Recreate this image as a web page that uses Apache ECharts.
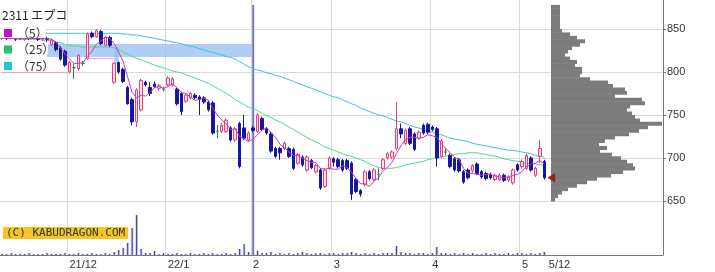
<!DOCTYPE html>
<html><head><meta charset="utf-8">
<script src="https://cdn.jsdelivr.net/npm/echarts@6/dist/echarts.min.js"></script>
<style>html,body{margin:0;padding:0;background:#fff;}#c{width:715px;height:272px;}</style>
</head><body><div id="c"></div>
<script>
const stockTitle = '2311 エプコ';
const maNames = ['（5）', '（25）', '（75）'];
const copyright = '(C) KABUDRAGON.COM';

const dates = [
 '11/09','11/10','11/11','11/12','11/15','11/16','11/17','11/18','11/19','11/22','11/24','11/25','11/26','11/29','11/30',
 '12/01','12/02','12/03','12/06','12/07','12/08','12/09','12/10','12/13','12/14','12/15','12/16','12/17','12/20','12/21','12/22','12/23','12/24','12/27','12/28','12/29','12/30',
 '01/04','01/05','01/06','01/07','01/11','01/12','01/13','01/14','01/17','01/18','01/19','01/20','01/21','01/24','01/25','01/26','01/27','01/28','01/31',
 '02/01','02/02','02/03','02/04','02/07','02/08','02/09','02/10','02/14','02/15','02/16','02/17','02/18','02/21','02/22','02/24','02/25','02/28',
 '03/01','03/02','03/03','03/04','03/07','03/08','03/09','03/10','03/11','03/14','03/15','03/16','03/17','03/18','03/22','03/23','03/24','03/25','03/28','03/29','03/30','03/31',
 '04/01','04/04','04/05','04/06','04/07','04/08','04/11','04/12','04/13','04/14','04/15','04/18','04/19','04/20','04/21','04/22','04/25','04/26','04/27','04/28',
 '05/02','05/06','05/09','05/10','05/11','05/12'
];

const opens = [839,840,839,840,838,838,840,839,840,838,839,832,834,828,824,800,805,804,810,816,845,841,847,831,840,788,811,803,782,768,742,756,788,782,786,781,780,785,785,780,775,766,770,773,771,770,765,764,731,731,731,735,721,740,735,721,735,731,746,734,728,711,711,711,711,710,694,701,686,697,684,686,667,688,699,698,697,697,694,675,662,669,684,675,681,688,700,701,711,734,717,734,728,723,738,739,736,734,702,707,703,699,698,684,686,685,693,684,682,681,675,675,680,674,671,692,690,688,700,680,702,696];
const closes = [840,839,840,838,839,840,839,840,838,839,838,837,826,815,808,811,805,819,810,844,841,848,833,840,831,810,800,789,763,742,779,790,785,775,783,784,780,793,792,763,754,773,775,770,768,765,756,729,731,738,744,721,734,690,723,729,732,750,733,729,708,702,706,717,702,688,704,692,701,689,691,665,686,700,695,690,686,688,658,661,658,684,676,686,681,698,705,707,734,728,732,717,710,730,729,730,733,700,720,707,690,686,685,672,677,691,682,678,676,677,680,680,674,678,686,686,696,703,686,688,711,677];
const lows = [837,837,838,836,837,836,837,838,836,836,835,830,824,813,806,798,792,802,807,814,839,840,831,830,829,786,798,787,762,738,736,754,783,772,781,778,777,783,783,761,750,764,768,768,750,763,754,727,723,729,729,719,719,688,721,719,730,729,731,727,706,700,698,709,700,686,692,690,684,687,682,663,665,686,690,688,684,686,651,659,655,667,674,673,674,686,698,699,709,723,715,715,708,721,727,728,731,690,700,703,688,684,683,670,675,683,680,676,674,675,673,673,672,672,669,684,688,686,684,678,694,675];
const highs = [842,841,842,841,841,841,842,842,841,841,841,839,836,830,826,813,810,821,813,846,847,850,849,842,842,811,812,805,784,770,781,792,790,788,789,786,783,795,794,782,777,775,777,775,773,772,767,766,738,741,746,737,736,742,750,731,737,752,748,736,730,713,713,719,713,712,706,703,703,699,693,688,688,702,701,700,699,699,696,677,664,686,686,688,688,700,707,709,765,740,734,736,730,732,740,741,738,736,722,711,705,701,700,686,688,693,695,686,684,683,682,682,682,680,688,694,698,705,702,690,721,698];
const volumes = [1,1,2,1,1,1,2,1,1,1,2,1,1,1,2,1,1,2,1,1,2,1,1,2,1,3,5,7,12,27,40,6,2,2,4,1,2,1,1,2,1,1,2,1,1,2,1,2,1,1,2,1,2,6,11,3,250,4,2,2,3,1,2,1,2,1,2,3,2,1,2,2,1,2,2,1,2,2,3,2,1,2,1,2,1,2,2,2,9,3,2,2,1,2,2,1,2,8,2,2,1,2,1,2,1,2,1,1,2,1,2,1,1,2,1,2,2,1,2,1,2,3];

const ma5 = [839,839,839,839,839,839,839,839,839,839,839,838,835,828,821,815,810,810,811,818,824,832,836,841,839,833,823,812,794,776,770,773,772,776,782,783,781,783,786,782,776,775,771,767,768,770,767,758,750,744,740,733,734,725,722,719,722,727,733,735,730,724,716,712,707,703,703,700,697,695,695,688,687,688,687,687,691,689,683,676,670,670,667,673,677,685,689,695,705,714,721,724,724,723,724,727,726,724,717,711,706,701,698,688,682,682,681,680,681,681,679,678,677,678,680,681,684,690,693,694,697,693];
const ma25 = [839,839,839,839,838,838,838,838,838,837,837,836,835,834,832,831,830,830,829,829,829,829,829,829,829,828,826,823,821,818,816,814,812,810,808,806,805,803,801,800,799,797,795,793,791,789,787,784,781,778,775,772,768,765,762,759,757,755,752,749,747,744,742,739,736,733,730,727,724,721,719,716,713,711,709,707,705,703,702,700,698,696,693,691,689,688,688,688,689,690,692,693,694,695,696,698,699,701,701,702,703,704,705,705,706,706,706,705,704,703,702,701,699,698,697,696,695,694,693,693,692,692];
const ma75 = [846,846,846,846,846,846,846,846,846,846,845,845,845,845,845,845,845,845,845,845,845,845,845,845,845,845,845,844,844,843,843,842,841,840,839,838,837,836,835,834,833,831,830,829,827,826,824,823,821,820,818,817,815,812,809,806,804,802,801,799,798,796,795,793,791,789,787,785,783,781,779,777,775,773,771,770,768,765,763,761,758,756,754,752,750,749,747,745,743,742,740,738,736,735,733,731,730,728,727,725,723,722,721,720,719,717,716,715,714,713,712,711,710,709,709,708,707,706,705,703,702,701];

const priceTicks = [650, 700, 750, 800, 850];
const monthStarts = {'12/01':'21/12', '01/04':'22/1', '02/01':'2', '03/01':'3', '04/01':'4', '05/02':'5'};
const endLabel = '5/12';

// volume-by-price profile: bin lower edges and volumes
const profileLow = [650,654,658,662,666,670,674,678,682,686,690,694,698,702,706,710,714,718,722,726,730,734,738,742,746,750,754,758,762,766,770,774,778,782,786,790,794,798,802,806,810,814,818,822,826,830,834,838,842,846,850,854,858,862,866,870,874];
const profileVol = [4,7,11,17,26,36,46,60,72,84,82,76,70,61,49,56,48,54,64,78,88,97,111,89,84,81,76,79,94,91,64,76,74,62,57,39,29,31,31,24,26,19,14,17,21,29,34,26,19,11,9,9,9,9,9,9,9];
const profileStep = 4;

const TOTAL_SLOTS = 148;
const cats = dates.slice();
for (let i = dates.length; i < TOTAL_SLOTS; i++) cats.push('p' + i);
const labelMap = Object.assign({}, monthStarts);
labelMap[cats[dates.length]] = endLabel;

const Y_MIN = 587.2, Y_MAX = 883.7;
const candleData = opens.map((o, i) => [o, closes[i], lows[i], highs[i]]);
const profileData = profileLow.map((lo, i) => [lo, lo + profileStep, profileVol[i]]);

const chart = echarts.init(document.getElementById('c'));
chart.setOption({
  animation: false,
  backgroundColor: '#ffffff',
  textStyle: {fontFamily: 'Liberation Sans, Arial, sans-serif'},
  title: {text: stockTitle, left: 2, top: 9, padding: 0, z: 60,
    textStyle: {fontSize: 12, fontWeight: 'normal', color: '#222', fontFamily: 'Noto Sans CJK JP'}},
  legend: {
    data: maNames, orient: 'vertical', left: 4, top: 27, padding: 0, z: 60,
    itemWidth: 8, itemHeight: 8, itemGap: 4.5, icon: 'rect',
    textStyle: {fontSize: 12, color: '#333', fontFamily: 'Noto Sans CJK JP', lineHeight: 12},
    selectedMode: false
  },
  grid: [
    {left: 0, right: 52, top: 0, bottom: 17},
    {left: 551, right: 52, top: 0, bottom: 17}
  ],
  xAxis: [
    {type: 'category', gridIndex: 0, data: cats, boundaryGap: true,
      axisLine: {lineStyle: {color: '#777', width: 1}},
      axisTick: {show: false},
      axisLabel: {interval: (i, v) => labelMap[v] !== undefined, formatter: v => labelMap[v] || '',
        align: 'left', margin: 4, fontSize: 11, color: '#333'},
      splitLine: {show: true, interval: (i, v) => monthStarts[v] !== undefined,
        lineStyle: {color: '#dadada', width: 1}}},
    {type: 'value', gridIndex: 1, min: 0, max: 112, show: false},
    {type: 'category', gridIndex: 0, data: cats, boundaryGap: true, show: false}
  ],
  yAxis: [
    {type: 'value', gridIndex: 0, position: 'right', min: Y_MIN, max: Y_MAX,
      axisLine: {show: true, lineStyle: {color: '#777', width: 1}},
      axisTick: {show: true, customValues: priceTicks, length: 3, lineStyle: {color: '#777'}},
      axisLabel: {customValues: priceTicks, margin: 4, fontSize: 11, color: '#333'},
      splitLine: {show: true, lineStyle: {color: '#dadada', width: 1}}},
    {type: 'value', gridIndex: 0, min: 0, max: 255, show: false},
    {type: 'value', gridIndex: 1, min: Y_MIN, max: Y_MAX, show: false}
  ],
  series: [
    {type: 'bar', name: 'volHalo', xAxisIndex: 2, yAxisIndex: 1, data: volumes, barWidth: 3,
      itemStyle: {color: '#d4d4f5'}, silent: true, z: 1},
    {type: 'bar', name: 'vol', xAxisIndex: 0, yAxisIndex: 1, data: volumes, barWidth: 1,
      itemStyle: {color: '#34348c'}, silent: true, z: 1},
    {type: 'custom', name: 'profile', xAxisIndex: 1, yAxisIndex: 2, data: profileData, z: 2,
      encode: {x: 2, y: [0, 1]},
      renderItem: function (params, api) {
        const lo = api.value(0), hi = api.value(1), v = api.value(2);
        const p1 = api.coord([0, hi]);
        const p2 = api.coord([v, lo]);
        return {type: 'rect', shape: {x: p1[0], y: p1[1], width: p2[0] - p1[0], height: p2[1] - p1[1] + 0.5},
          style: {fill: '#7c7c7c'}};
      }},
    {type: 'line', name: maNames[2], xAxisIndex: 0, yAxisIndex: 0, data: ma75, showSymbol: false,
      lineStyle: {color: '#3cc4d6', width: 1}, itemStyle: {color: '#22c2d6'}, z: 3,
      markArea: {silent: true, itemStyle: {color: 'rgba(150,190,240,0.75)'},
        data: [
          [{xAxis: dates[10], yAxis: 832.5}, {xAxis: dates[56], yAxis: 817.5}],
          [{xAxis: dates[25], yAxis: 829}, {xAxis: dates[26], yAxis: 810}]
        ]},
      markLine: {silent: true, symbol: 'none', label: {show: false},
        lineStyle: {color: '#f2a0bd', width: 1, type: 'solid'},
        data: [
          [{coord: [dates[0], 800]}, {coord: [dates[15], 800]}],
          [{coord: [dates[19], 816]}, {coord: [dates[25], 816]}]
        ]}},
    {type: 'line', name: maNames[1], xAxisIndex: 0, yAxisIndex: 0, data: ma25, showSymbol: false,
      lineStyle: {color: '#55d68a', width: 1}, itemStyle: {color: '#22c466'}, z: 3},
    {type: 'candlestick', name: 'price', xAxisIndex: 0, yAxisIndex: 0, data: candleData, barWidth: 3, z: 4,
      itemStyle: {color: '#ffe3ec', color0: '#1616a0', borderColor: '#e63e78', borderColor0: '#1616a0',
        borderColorDoji: '#1f8a2a', borderWidth: 1},
      markPoint: {silent: true, symbol: 'triangle', symbolRotate: 90, symbolSize: [8, 7], symbolOffset: [7, 0],
        label: {show: false}, itemStyle: {color: '#b01818', borderColor: '#701010', borderWidth: 0.5},
        data: [{coord: [dates[dates.length - 1], closes[closes.length - 1]]}]}},
    {type: 'line', name: maNames[0], xAxisIndex: 0, yAxisIndex: 0, data: ma5, showSymbol: false,
      lineStyle: {color: '#c43cc8', width: 1}, itemStyle: {color: '#c010d0'}, z: 5}
  ],
  graphic: [
    {type: 'rect', left: 0, top: 27, z: 50, shape: {width: 46, height: 11}, style: {fill: '#fff'}},
    {type: 'rect', left: 0, top: 44, z: 50, shape: {width: 48, height: 10}, style: {fill: '#fff'}},
    {type: 'rect', left: 0, top: 61, z: 50, shape: {width: 48, height: 10}, style: {fill: '#fff'}},
    {type: 'text', left: 3, top: 227, z: 100,
      style: {text: copyright, fill: '#333', font: '11px "DejaVu Sans Mono", monospace',
        backgroundColor: '#f3c623', padding: [1, 3, 0, 3]}}
  ]
});
</script>
</body></html>
